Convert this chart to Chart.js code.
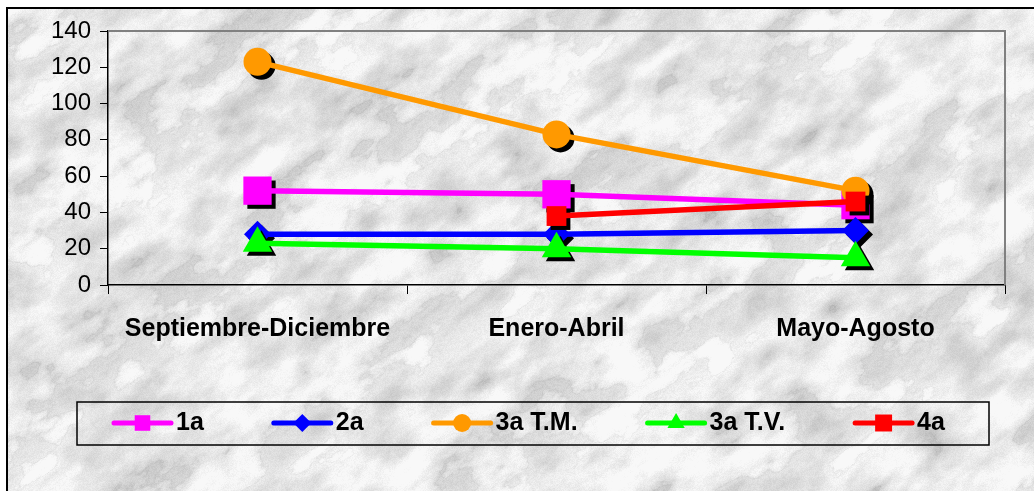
<!DOCTYPE html>
<html>
<head>
<meta charset="utf-8">
<script src="https://cdn.jsdelivr.net/npm/chart.js@4"></script>
<style>
    html, body { margin: 0; padding: 0; background: #fff; overflow: hidden; }
    #frame { position: absolute; left: 6px; top: 7px; width: 1040px; height: 500px; border-left: 2px solid #000; border-top: 2px solid #000; }
    #bg { position: absolute; left: 0; top: 0; }
    #chart { position: absolute; left: 0; top: 0; }
</style>
</head>
<body>
<div id="frame"><canvas id="bg" width="1040" height="500"></canvas></div>
<canvas id="chart" width="1034" height="491"></canvas>
<script>
// 数据
const categories = ['Septiembre-Diciembre', 'Enero-Abril', 'Mayo-Agosto'];
const seriesNames = ['1a', '2a', '3a T.M.', '3a T.V.', '4a'];
const serie1a = [52, 50, 44];
const serie2a = [28, 28, 30];
const serie3aTM = [123, 83, 52];
const serie3aTV = [23, 20, 15];
const serie4a = [null, 38, 46];
const yMin = 0, yMax = 140, yStep = 20;

const FONT = 'Arial, "Liberation Sans", sans-serif';

// 大理石背景
function paintMarble() {
    const c = document.getElementById('bg');
    const g = c.getContext('2d');
    const w = c.width, h = c.height;
    const img = g.createImageData(w, h);
    const hash = (i, j) => { const s = Math.sin(i * 127.1 + j * 311.7) * 43758.5453; return s - Math.floor(s); };
    const noise = (x, y) => {
        const i = Math.floor(x), j = Math.floor(y);
        const fx = x - i, fy = y - j;
        const u = fx * fx * (3 - 2 * fx), v = fy * fy * (3 - 2 * fy);
        const a = hash(i, j), b = hash(i + 1, j), c2 = hash(i, j + 1), d = hash(i + 1, j + 1);
        return a + (b - a) * u + (c2 - a) * v + (a - b - c2 + d) * u * v;
    };
    for (let y = 0; y < h; y++) {
        for (let x = 0; x < w; x++) {
            const u = x * 0.8 - y * 0.6, v = y * 0.8 + x * 0.6;
            let n = 0, amp = 0.5, f = 1 / 28;
            for (let k = 0; k < 5; k++) {
                n += amp * noise(u * f * 0.7, v * f * 1.3);
                amp *= 0.5; f *= 2;
            }
            const t = Math.abs(Math.sin(v * 0.02 + n * 5));
            let gray = 229 + (0.5 - n) * 95 - 15 * Math.pow(1 - t, 8) + (hash(x, y) - 0.5) * 12;
            gray = Math.max(165, Math.min(248, gray));
            const p = (y * w + x) * 4;
            img.data[p] = img.data[p + 1] = img.data[p + 2] = gray;
            img.data[p + 3] = 255;
        }
    }
    g.putImageData(img, 0, 0);
}

// 标记阴影
const markerShadow = {
    id: 'markerShadow',
    beforeDatasetDraw(chart, args) {
        const ctx = chart.ctx;
        ctx.save();
        ctx.fillStyle = '#000';
        args.meta.data.forEach(pt => {
            if (pt.skip) return;
            const o = pt.options;
            Chart.helpers.drawPoint(ctx, { pointStyle: o.pointStyle, radius: o.radius, rotation: 0, borderWidth: 0 }, pt.x + 4, pt.y + 4);
        });
        ctx.restore();
    }
};

// 绘图区灰色边框（上、右）
const plotFrame = {
    id: 'plotFrame',
    beforeDatasetsDraw(chart) {
        const { ctx, chartArea: a } = chart;
        ctx.save();
        ctx.strokeStyle = '#808080';
        ctx.lineWidth = 2;
        ctx.beginPath();
        ctx.moveTo(a.left, a.top);
        ctx.lineTo(a.right, a.top);
        ctx.lineTo(a.right, a.bottom);
        ctx.stroke();
        ctx.restore();
    }
};

// 图例（带框）
const boxLegend = {
    id: 'boxLegend',
    afterDraw(chart) {
        const ctx = chart.ctx;
        ctx.save();
        ctx.strokeStyle = '#000';
        ctx.lineWidth = 1.5;
        ctx.strokeRect(77, 402, 912, 43);
        ctx.font = 'bold 25px ' + FONT;
        ctx.textBaseline = 'middle';
        const y = 423;
        let x = 114;
        chart.data.datasets.forEach(ds => {
            ctx.strokeStyle = ds.borderColor;
            ctx.lineWidth = 5;
            ctx.lineCap = 'round';
            ctx.beginPath();
            ctx.moveTo(x, y);
            ctx.lineTo(x + 57, y);
            ctx.stroke();
            ctx.fillStyle = ds.borderColor;
            Chart.helpers.drawPoint(ctx, { pointStyle: ds.pointStyle, radius: ds.legendRadius, rotation: 0, borderWidth: 0 }, x + 28.5, y);
            ctx.fillStyle = '#000';
            ctx.fillText(ds.label, x + 62, y);
            x += 62 + ctx.measureText(ds.label).width + 70;
        });
        ctx.restore();
    }
};

function makeSet(i, data, color, style, radius, legendRadius) {
    return {
        label: seriesNames[i],
        data: data,
        borderColor: color,
        backgroundColor: color,
        pointBackgroundColor: color,
        pointBorderColor: color,
        pointBorderWidth: 0,
        pointStyle: style,
        pointRadius: radius,
        legendRadius: legendRadius,
        borderWidth: 5.5,
        borderCapStyle: 'round',
        tension: 0,
        order: seriesNames.length - i
    };
}

function init() {
    paintMarble();

    new Chart(document.getElementById('chart'), {
        type: 'line',
        data: {
            labels: categories,
            datasets: [
                makeSet(0, serie1a, '#ff00ff', 'rect', 20, 11),
                makeSet(1, serie2a, '#0000ff', 'rectRot', 13.5, 9),
                makeSet(2, serie3aTM, '#ff9900', 'circle', 14, 9),
                makeSet(3, serie3aTV, '#00ff00', 'triangle', 17, 10),
                makeSet(4, serie4a, '#ff0000', 'rect', 14, 12)
            ]
        },
        options: {
            responsive: false,
            animation: false,
            layout: { padding: { left: 0, top: 31, right: 29, bottom: 0 } },
            plugins: {
                legend: { display: false },
                tooltip: { enabled: false }
            },
            scales: {
                x: {
                    offset: true,
                    grid: { offset: true, drawOnChartArea: false, drawTicks: true, tickLength: 9, tickColor: '#000', color: '#000' },
                    border: { color: '#000', width: 1.5 },
                    ticks: { font: { family: FONT, size: 25, weight: 'bold' }, color: '#000', padding: 20, maxRotation: 0, autoSkip: false },
                    afterFit: s => { s.height = 206; }
                },
                y: {
                    min: yMin,
                    max: yMax,
                    ticks: { stepSize: yStep, padding: 9, font: { family: FONT, size: 24 }, color: '#000' },
                    grid: { drawOnChartArea: false, drawTicks: true, tickLength: 8, tickColor: '#000' },
                    border: { color: '#000', width: 1.5 },
                    afterFit: s => { s.width = 108; }
                }
            }
        },
        plugins: [plotFrame, markerShadow, boxLegend]
    });
}

document.addEventListener('DOMContentLoaded', init);
</script>
</body>
</html>
